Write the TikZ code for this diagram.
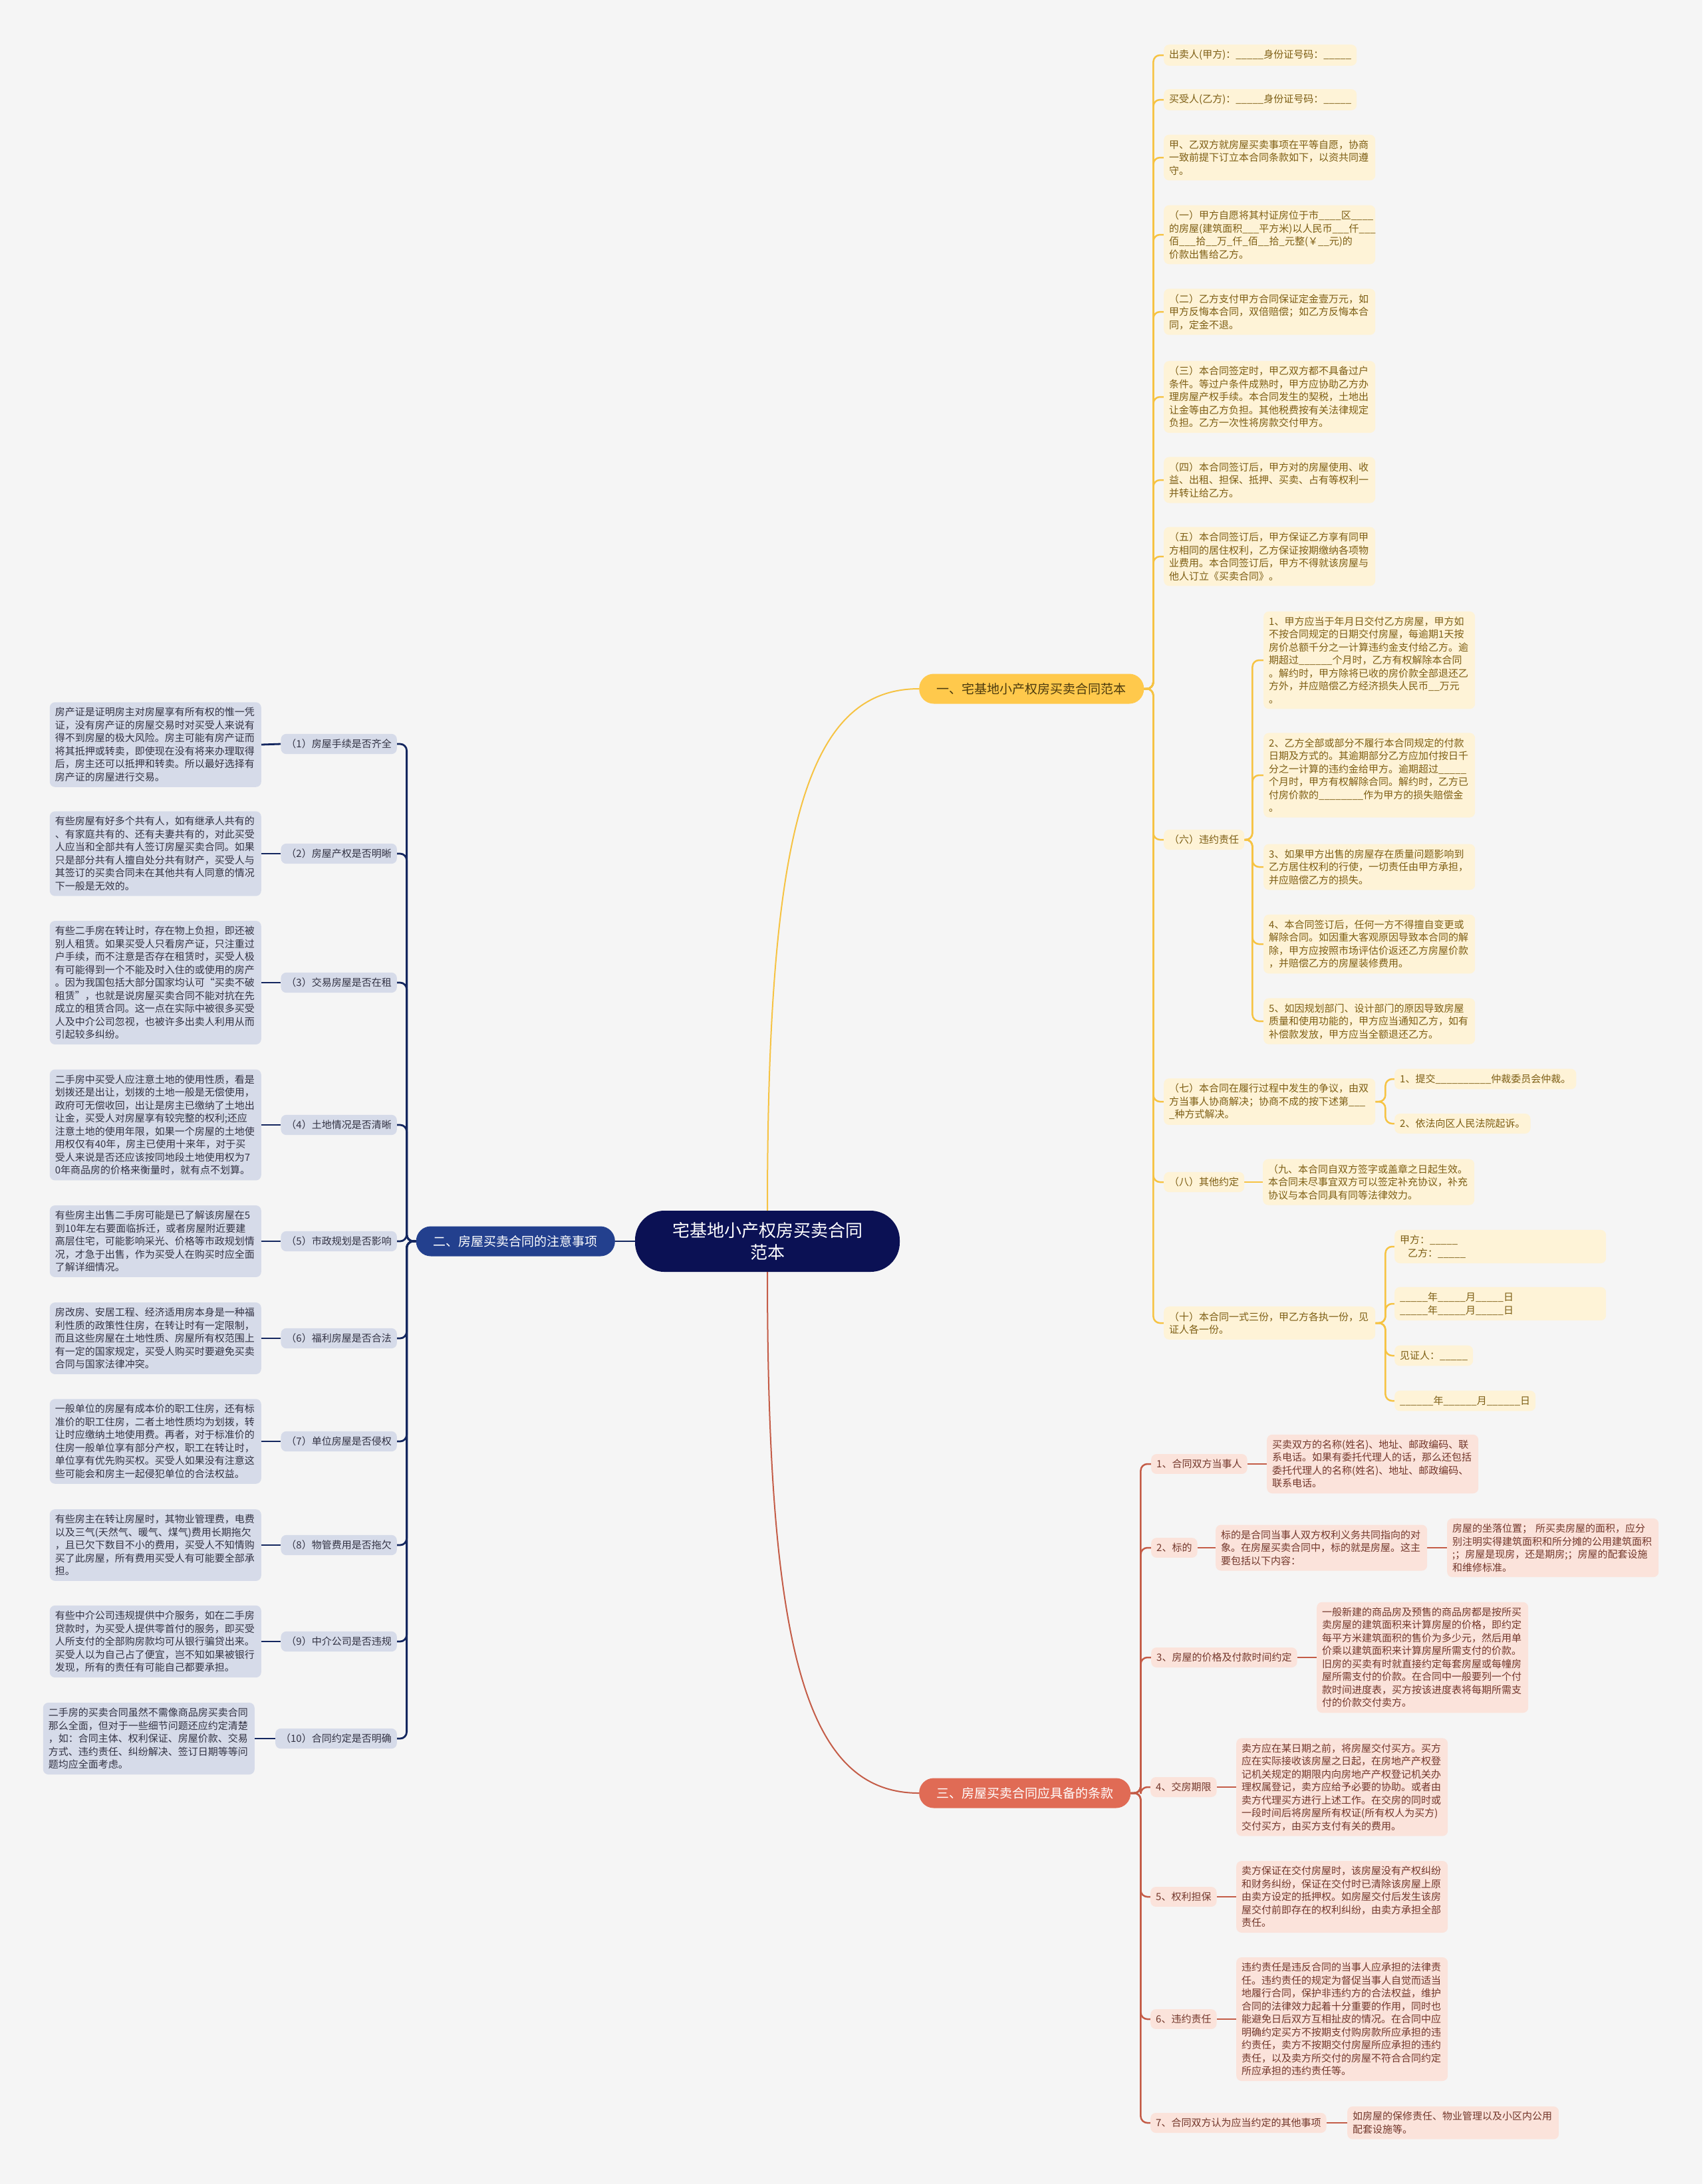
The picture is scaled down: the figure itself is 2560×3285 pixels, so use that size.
\documentclass[tikz,border=0pt]{standalone}
\usepackage{fontspec}
\setmainfont{Noto Sans CJK SC}
\usetikzlibrary{calc}
\definecolor{bgc}{HTML}{F5F5F5}
\definecolor{rootc}{HTML}{0B1154}
\definecolor{ybr}{HTML}{FFC94C}
\definecolor{ybrt}{HTML}{4B3A0E}
\definecolor{yfill}{HTML}{FEF3D7}
\definecolor{ytext}{HTML}{7D5E14}
\definecolor{yline}{HTML}{F6C343}
\definecolor{bbr}{HTML}{23408E}
\definecolor{bfill}{HTML}{D6DBE9}
\definecolor{btext}{HTML}{333344}
\definecolor{bline}{HTML}{14275F}
\definecolor{rbr}{HTML}{E06B55}
\definecolor{rfill}{HTML}{FBE3DB}
\definecolor{rtext}{HTML}{73372B}
\definecolor{rline}{HTML}{C45C47}
\pgfdeclarelayer{bg}
\pgfdeclarelayer{edges}
\pgfsetlayers{bg,edges,main}
\tikzset{
  base/.style={font=\fontsize{15}{19.5}\selectfont, align=left, inner xsep=8pt, inner ysep=8pt, rounded corners=8pt},
  ynode/.style={base, fill=yfill, text=ytext, anchor=west},
  rnode/.style={base, fill=rfill, text=rtext, anchor=west},
  bnode/.style={base, fill=bfill, text=btext, anchor=east},
  desc/.style={text width=302pt},
  rootnode/.style={fill=rootc, text=white, font=\fontsize{26}{33}\selectfont, align=center, minimum width=398pt, minimum height=92pt, rounded corners=44pt, inner sep=0pt},
  branch/.style={font=\fontsize{19}{23}\selectfont, minimum height=45pt, rounded corners=22pt, inner xsep=16pt, align=center},
  yl/.style={draw=yline, line width=2.5pt, rounded corners=10pt},
  bl/.style={draw=bline, line width=2.8pt, rounded corners=10pt},
  rl/.style={draw=rline, line width=2.5pt, rounded corners=10pt}
}
\begin{document}
\begin{tikzpicture}[x=1pt,y=1pt]
\begin{pgfonlayer}{bg}
\fill[bgc] (0,0) rectangle (2560,-3285);
\end{pgfonlayer}
\useasboundingbox (0,0) rectangle (2560,-3285);

% root and branches
\node[rootnode] (root) at (1154,-1867) {宅基地小产权房买卖合同\\范本};
\node[branch, fill=ybr, text=ybrt, anchor=west, minimum width=338pt] (b1) at (1382,-1036) {一、宅基地小产权房买卖合同范本};
\node[branch, fill=bbr, text=white, anchor=east, minimum width=299pt] (b2) at (925,-1867) {二、房屋买卖合同的注意事项};
\node[branch, fill=rbr, text=white, anchor=west, minimum width=318pt] (b3) at (1382,-2697) {三、房屋买卖合同应具备的条款};

% yellow branch
\node[ynode] (y1) at (1750,-83) {出卖人(甲方)：\_\_\_\_\_身份证号码：\_\_\_\_\_};
\node[ynode] (y2) at (1750,-150) {买受人(乙方)：\_\_\_\_\_身份证号码：\_\_\_\_\_};
\node[ynode, desc] (y3) at (1750,-237) {甲、乙双方就房屋买卖事项在平等自愿，协商\\一致前提下订立本合同条款如下，以资共同遵\\守。};
\node[ynode, desc] (y4) at (1750,-353) {（一）甲方自愿将其村证房位于市\_\_\_\_区\_\_\_\_\\的房屋(建筑面积\_\_\_平方米)以人民币\_\_\_仟\_\_\_\\佰\_\_\_拾\_\_万\_仟\_佰\_\_拾\_元整(￥\_\_元)的\\价款出售给乙方。};
\node[ynode, desc] (y5) at (1750,-469) {（二）乙方支付甲方合同保证定金壹万元，如\\甲方反悔本合同，双倍赔偿；如乙方反悔本合\\同，定金不退。};
\node[ynode, desc] (y6) at (1750,-597) {（三）本合同签定时，甲乙双方都不具备过户\\条件。等过户条件成熟时，甲方应协助乙方办\\理房屋产权手续。本合同发生的契税，土地出\\让金等由乙方负担。其他税费按有关法律规定\\负担。乙方一次性将房款交付甲方。};
\node[ynode, desc] (y7) at (1750,-722) {（四）本合同签订后，甲方对的房屋使用、收\\益、出租、担保、抵押、买卖、占有等权利一\\并转让给乙方。};
\node[ynode, desc] (y8) at (1750,-837) {（五）本合同签订后，甲方保证乙方享有同甲\\方相同的居住权利，乙方保证按期缴纳各项物\\业费用。本合同签订后，甲方不得就该房屋与\\他人订立《买卖合同》。};
\node[ynode] (y9) at (1750,-1263) {（六）违约责任};
\node[ynode, desc] (c1) at (1900,-993) {1、甲方应当于年月日交付乙方房屋，甲方如\\不按合同规定的日期交付房屋，每逾期1天按\\房价总额千分之一计算违约金支付给乙方。逾\\期超过\_\_\_\_\_\_个月时，乙方有权解除本合同\\。解约时，甲方除将已收的房价款全部退还乙\\方外，并应赔偿乙方经济损失人民币\_\_万元\\。};
\node[ynode, desc] (c2) at (1900,-1166) {2、乙方全部或部分不履行本合同规定的付款\\日期及方式的。其逾期部分乙方应加付按日千\\分之一计算的违约金给甲方。逾期超过\_\_\_\_\_\\个月时，甲方有权解除合同。解约时，乙方已\\付房价款的\_\_\_\_\_\_\_\_作为甲方的损失赔偿金\\。};
\node[ynode, desc] (c3) at (1900,-1304) {3、如果甲方出售的房屋存在质量问题影响到\\乙方居住权利的行使，一切责任由甲方承担，\\并应赔偿乙方的损失。};
\node[ynode, desc] (c4) at (1900,-1420) {4、本合同签订后，任何一方不得擅自变更或\\解除合同。如因重大客观原因导致本合同的解\\除，甲方应按照市场评估价返还乙方房屋价款\\，并赔偿乙方的房屋装修费用。};
\node[ynode, desc] (c5) at (1900,-1536) {5、如因规划部门、设计部门的原因导致房屋\\质量和使用功能的，甲方应当通知乙方，如有\\补偿款发放，甲方应当全额退还乙方。};
\node[ynode, desc] (y10) at (1750,-1657) {（七）本合同在履行过程中发生的争议，由双\\方当事人协商解决；协商不成的按下述第\_\_\_\\\_种方式解决。};
\node[ynode] (s1) at (2097,-1623) {1、提交\_\_\_\_\_\_\_\_\_\_仲裁委员会仲裁。};
\node[ynode] (s2) at (2097,-1690) {2、依法向区人民法院起诉。};
\node[ynode] (y11) at (1750,-1778) {（八）其他约定};
\node[ynode, desc] (n9) at (1899,-1778) {（九、本合同自双方签字或盖章之日起生效。\\本合同未尽事宜双方可以签定补充协议，补充\\协议与本合同具有同等法律效力。};
\node[ynode, desc] (y12) at (1750,-1990) {（十）本合同一式三份，甲乙方各执一份，见\\证人各一份。};
\node[ynode, desc] (t1) at (2097,-1875) {甲方：\_\_\_\_\_\\\hspace*{12pt}乙方：\_\_\_\_\_};
\node[ynode, desc] (t2) at (2097,-1961) {\_\_\_\_\_年\_\_\_\_\_月\_\_\_\_\_日\\\_\_\_\_\_年\_\_\_\_\_月\_\_\_\_\_日};
\node[ynode] (t3) at (2097,-2039) {见证人：\_\_\_\_\_};
\node[ynode] (t4) at (2097,-2107) {\_\_\_\_\_\_年\_\_\_\_\_\_月\_\_\_\_\_\_日};

% blue branch
\node[bnode] (l1) at (597,-1119) {（1）房屋手续是否齐全};
\node[bnode] (l2) at (597,-1284) {（2）房屋产权是否明晰};
\node[bnode] (l3) at (597,-1478) {（3）交易房屋是否在租};
\node[bnode] (l4) at (597,-1692) {（4）土地情况是否清晰};
\node[bnode] (l5) at (597,-1867) {（5）市政规划是否影响};
\node[bnode] (l6) at (597,-2013) {（6）福利房屋是否合法};
\node[bnode] (l7) at (597,-2168) {（7）单位房屋是否侵权};
\node[bnode] (l8) at (597,-2324) {（8）物管费用是否拖欠};
\node[bnode] (l9) at (597,-2469) {（9）中介公司是否违规};
\node[bnode] (l10) at (597,-2615) {（10）合同约定是否明确};
\node[bnode, desc] (d1) at (393,-1120) {房产证是证明房主对房屋享有所有权的惟一凭\\证，没有房产证的房屋交易时对买受人来说有\\得不到房屋的极大风险。房主可能有房产证而\\将其抵押或转卖，即使现在没有将来办理取得\\后，房主还可以抵押和转卖。所以最好选择有\\房产证的房屋进行交易。};
\node[bnode, desc] (d2) at (393,-1284) {有些房屋有好多个共有人，如有继承人共有的\\、有家庭共有的、还有夫妻共有的，对此买受\\人应当和全部共有人签订房屋买卖合同。如果\\只是部分共有人擅自处分共有财产，买受人与\\其签订的买卖合同未在其他共有人同意的情况\\下一般是无效的。};
\node[bnode, desc] (d3) at (393,-1478) {有些二手房在转让时，存在物上负担，即还被\\别人租赁。如果买受人只看房产证，只注重过\\户手续，而不注意是否存在租赁时，买受人极\\有可能得到一个不能及时入住的或使用的房产\\。因为我国包括大部分国家均认可“买卖不破\\租赁”，也就是说房屋买卖合同不能对抗在先\\成立的租赁合同。这一点在实际中被很多买受\\人及中介公司忽视，也被许多出卖人利用从而\\引起较多纠纷。};
\node[bnode, desc] (d4) at (393,-1692) {二手房中买受人应注意土地的使用性质，看是\\划拨还是出让，划拨的土地一般是无偿使用，\\政府可无偿收回，出让是房主已缴纳了土地出\\让金，买受人对房屋享有较完整的权利;还应\\注意土地的使用年限，如果一个房屋的土地使\\用权仅有40年，房主已使用十来年，对于买\\受人来说是否还应该按同地段土地使用权为7\\0年商品房的价格来衡量时，就有点不划算。};
\node[bnode, desc] (d5) at (393,-1867) {有些房主出售二手房可能是已了解该房屋在5\\到10年左右要面临拆迁，或者房屋附近要建\\高层住宅，可能影响采光、价格等市政规划情\\况，才急于出售，作为买受人在购买时应全面\\了解详细情况。};
\node[bnode, desc] (d6) at (393,-2013) {房改房、安居工程、经济适用房本身是一种福\\利性质的政策性住房，在转让时有一定限制，\\而且这些房屋在土地性质、房屋所有权范围上\\有一定的国家规定，买受人购买时要避免买卖\\合同与国家法律冲突。};
\node[bnode, desc] (d7) at (393,-2168) {一般单位的房屋有成本价的职工住房，还有标\\准价的职工住房，二者土地性质均为划拨，转\\让时应缴纳土地使用费。再者，对于标准价的\\住房一般单位享有部分产权，职工在转让时，\\单位享有优先购买权。买受人如果没有注意这\\些可能会和房主一起侵犯单位的合法权益。};
\node[bnode, desc] (d8) at (393,-2324) {有些房主在转让房屋时，其物业管理费，电费\\以及三气(天然气、暖气、煤气)费用长期拖欠\\，且已欠下数目不小的费用，买受人不知情购\\买了此房屋，所有费用买受人有可能要全部承\\担。};
\node[bnode, desc] (d9) at (393,-2469) {有些中介公司违规提供中介服务，如在二手房\\贷款时，为买受人提供零首付的服务，即买受\\人所支付的全部购房款均可从银行骗贷出来。\\买受人以为自己占了便宜，岂不知如果被银行\\发现，所有的责任有可能自己都要承担。};
\node[bnode, desc] (d10) at (383,-2615) {二手房的买卖合同虽然不需像商品房买卖合同\\那么全面，但对于一些细节问题还应约定清楚\\，如：合同主体、权利保证、房屋价款、交易\\方式、违约责任、纠纷解决、签订日期等等问\\题均应全面考虑。};

% red branch
\node[rnode] (r1) at (1731,-2202) {1、合同双方当事人};
\node[rnode, desc] (rd1) at (1905,-2202) {买卖双方的名称(姓名)、地址、邮政编码、联\\系电话。如果有委托代理人的话，那么还包括\\委托代理人的名称(姓名)、地址、邮政编码、\\联系电话。};
\node[rnode] (r2) at (1731,-2328) {2、标的};
\node[rnode, desc] (rd2) at (1828,-2328) {标的是合同当事人双方权利义务共同指向的对\\象。在房屋买卖合同中，标的就是房屋。这主\\要包括以下内容：};
\node[rnode, desc] (rg2) at (2176,-2328) {房屋的坐落位置； 所买卖房屋的面积，应分\\别注明实得建筑面积和所分摊的公用建筑面积\\;；房屋是现房，还是期房;；房屋的配套设施\\和维修标准。};
\node[rnode] (r3) at (1731,-2493) {3、房屋的价格及付款时间约定};
\node[rnode, desc] (rd3) at (1980,-2493) {一般新建的商品房及预售的商品房都是按所买\\卖房屋的建筑面积来计算房屋的价格，即约定\\每平方米建筑面积的售价为多少元，然后用单\\价乘以建筑面积来计算房屋所需支付的价款。\\旧房的买卖有时就直接约定每套房屋或每幢房\\屋所需支付的价款。在合同中一般要列一个付\\款时间进度表，买方按该进度表将每期所需支\\付的价款交付卖方。};
\node[rnode] (r4) at (1730,-2688) {4、交房期限};
\node[rnode, desc] (rd4) at (1859,-2688) {卖方应在某日期之前，将房屋交付买方。买方\\应在实际接收该房屋之日起，在房地产产权登\\记机关规定的期限内向房地产产权登记机关办\\理权属登记，卖方应给予必要的协助。或者由\\卖方代理买方进行上述工作。在交房的同时或\\一段时间后将房屋所有权证(所有权人为买方)\\交付买方，由买方支付有关的费用。};
\node[rnode] (r5) at (1730,-2853) {5、权利担保};
\node[rnode, desc] (rd5) at (1859,-2853) {卖方保证在交付房屋时，该房屋没有产权纠纷\\和财务纠纷，保证在交付时已清除该房屋上原\\由卖方设定的抵押权。如房屋交付后发生该房\\屋交付前即存在的权利纠纷，由卖方承担全部\\责任。};
\node[rnode] (r6) at (1730,-3037) {6、违约责任};
\node[rnode, desc] (rd6) at (1859,-3037) {违约责任是违反合同的当事人应承担的法律责\\任。违约责任的规定为督促当事人自觉而适当\\地履行合同，保护非违约方的合法权益，维护\\合同的法律效力起着十分重要的作用，同时也\\能避免日后双方互相扯皮的情况。在合同中应\\明确约定买方不按期支付购房款所应承担的违\\约责任，卖方不按期交付房屋所应承担的违约\\责任，以及卖方所交付的房屋不符合合同约定\\所应承担的违约责任等。};
\node[rnode] (r7) at (1730,-3193) {7、合同双方认为应当约定的其他事项};
\node[rnode, desc] (rd7) at (2026,-3193) {如房屋的保修责任、物业管理以及小区内公用\\配套设施等。};

% edges
\begin{pgfonlayer}{edges}
\draw[yl, line width=2pt] (root.north) .. controls +(0,570) and +(-170,0) .. (b1.west);
\draw[rl, line width=2pt] (root.south) .. controls +(0,-570) and +(-170,0) .. (b3.west);
\draw[bl, line width=2pt] (root.west) -- (b2.east);
\foreach \n in {y1,y2,y3,y4,y5,y6,y7,y8,y9,y10,y11,y12}
  \draw[yl] (b1.east) -- ++(14,0) |- (\n.west);
\foreach \n in {c1,c2,c3,c4,c5}
  \draw[yl] (y9.east) -- ++(12,0) |- (\n.west);
\foreach \n in {s1,s2}
  \draw[yl] (y10.east) -- ++(15,0) |- (\n.west);
\draw[yl] (y11.east) -- (n9.west);
\foreach \n in {t1,t2,t3,t4}
  \draw[yl] (y12.east) -- ++(15,0) |- (\n.west);
\foreach \n/\m in {l1/d1,l2/d2,l3/d3,l4/d4,l5/d5,l6/d6,l7/d7,l8/d8,l9/d9,l10/d10}{
  \draw[bl] (b2.west) -- ++(-14,0) |- (\n.east);
  \draw[bl] (\n.west) -- (\m.east);
}
\foreach \n/\m in {r1/rd1,r2/rd2,r3/rd3,r4/rd4,r5/rd5,r6/rd6,r7/rd7}{
  \draw[rl] (b3.east) -- ++(15,0) |- (\n.west);
  \draw[rl] (\n.east) -- (\m.west);
}
\draw[rl] (rd2.east) -- (rg2.west);
\end{pgfonlayer}
\end{tikzpicture}
\end{document}
